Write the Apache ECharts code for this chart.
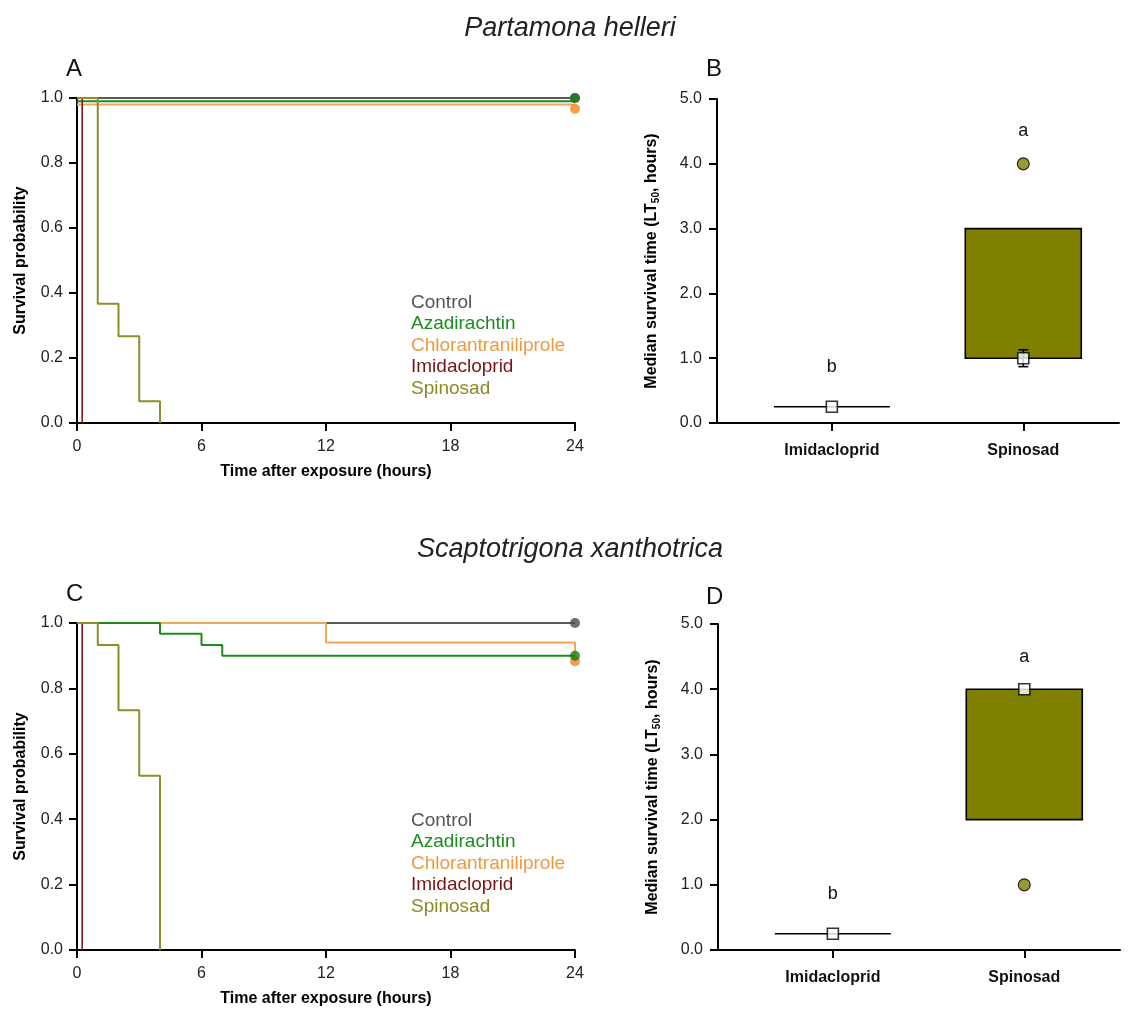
<!DOCTYPE html>
<html><head><meta charset="utf-8">
<script src="https://cdn.jsdelivr.net/npm/echarts@6/dist/echarts.min.js"></script>
<style>html,body{margin:0;padding:0;background:#fff}#c{width:1141px;height:1015px}</style>
</head><body><div id="c"></div>
<script>
// ---------- DATA ----------
const groups = ['Control', 'Azadirachtin', 'Chlorantraniliprole', 'Imidacloprid', 'Spinosad'];
const xTicks = [0, 6, 12, 18, 24];
const endTime = 24;

// Panel A – Partamona helleri, Kaplan-Meier steps [hours, survival]
const kmA_Control = [[0, 1.0], [24, 1.0]];
const kmA_Azadirachtin = [[0, 0.99], [24, 0.99]];
const kmA_Chlorantraniliprole = [[0, 0.98], [24, 0.98]];
const kmA_Imidacloprid = [[0, 1.0], [0.25, 0.0]];
const kmA_Spinosad = [[0, 1.0], [1, 0.367], [2, 0.267], [3, 0.067], [4, 0.0]];
const endA = [1.0, 1.0, 0.967]; // Control, Azadirachtin, Chlorantraniliprole at 24 h

// Panel C – Scaptotrigona xanthotrica
const kmC_Control = [[0, 1.0], [24, 1.0]];
const kmC_Azadirachtin = [[0, 1.0], [4, 0.967], [6, 0.933], [7, 0.90], [24, 0.90]];
const kmC_Chlorantraniliprole = [[0, 1.0], [12, 0.94], [24, 0.88]];
const kmC_Imidacloprid = [[0, 1.0], [0.25, 0.0]];
const kmC_Spinosad = [[0, 1.0], [1, 0.933], [2, 0.733], [3, 0.533], [4, 0.0]];
const endC = [1.0, 0.90, 0.883];

// Panels B / D – median survival time (LT50, hours)
const ltCategories = ['Imidacloprid', 'Spinosad'];
const boxB_q1 = [0.25, 1.0];
const boxB_q3 = [0.25, 3.0];
const meanB = [0.25, 1.0];
const errB = [0, 0.13];
const outlierB = [4.0];      // Spinosad
const letterB = ['b', 'a'];
const letterPosB = [0.87, 4.5];

const boxD_q1 = [0.25, 2.0];
const boxD_q3 = [0.25, 4.0];
const meanD = [0.25, 4.0];
const errD = [0, 0];
const outlierD = [1.0];      // Spinosad
const letterD = ['b', 'a'];
const letterPosD = [0.86, 4.5];

// ---------- STYLE ----------
const FONT = '"Liberation Sans", Arial, sans-serif';
const lineColors = ['#5a5a5a', '#1f8a1f', '#f2a65a', '#8b1a1a', '#8d8d2a'];
const textColors = ['#555555', '#1f8a1f', '#ee9a40', '#7a1414', '#8a8a22'];
const dotColors = ['#4a4a4a', '#1b7a1b', '#f5841f'];
const OLIVE = '#808000';

const chart = echarts.init(document.getElementById('c'));

function kmX(gi) {
  return {
    gridIndex: gi, type: 'value', min: 0, max: 24, interval: 6,
    axisLine: { onZero: false, lineStyle: { color: '#000', width: 2 } },
    axisTick: { inside: false, length: 8, lineStyle: { color: '#000', width: 2 } },
    axisLabel: { margin: 16, fontSize: 16, color: '#222', fontFamily: FONT },
    splitLine: { show: false },
    name: 'Time after exposure (hours)', nameLocation: 'middle', nameGap: 41,
    nameTextStyle: { fontSize: 16, fontWeight: 'bold', color: '#000', fontFamily: FONT }
  };
}
function kmY(gi) {
  return {
    gridIndex: gi, type: 'value', min: 0, max: 1, interval: 0.2,
    axisLine: { show: true, onZero: false, lineStyle: { color: '#000', width: 2 } },
    axisTick: { show: true, inside: false, length: 8, lineStyle: { color: '#000', width: 2 } },
    axisLabel: { margin: 14, fontSize: 16, color: '#222', fontFamily: FONT, formatter: v => v.toFixed(1) },
    splitLine: { show: false },
    name: 'Survival probability', nameLocation: 'middle', nameGap: 48,
    nameTextStyle: { fontSize: 16, fontWeight: 'bold', color: '#000', fontFamily: FONT }
  };
}
function ltX(gi) {
  return {
    gridIndex: gi, type: 'value', min: 0.4, max: 2.5,
    axisLine: { onZero: false, lineStyle: { color: '#000', width: 2 } },
    axisTick: { inside: false, length: 8, customValues: [1, 2], lineStyle: { color: '#000', width: 2 } },
    axisLabel: { margin: 20, customValues: [1, 2], fontSize: 16, fontWeight: 'bold', color: '#111', fontFamily: FONT,
      formatter: v => ltCategories[Math.round(v) - 1] || '' },
    splitLine: { show: false }
  };
}
function ltY(gi) {
  return {
    gridIndex: gi, type: 'value', min: 0, max: 5, interval: 1,
    axisLine: { show: true, onZero: false, lineStyle: { color: '#000', width: 2 } },
    axisTick: { show: true, inside: false, length: 8, lineStyle: { color: '#000', width: 2 } },
    axisLabel: { margin: 15, fontSize: 16, color: '#222', fontFamily: FONT, formatter: v => v.toFixed(1) },
    splitLine: { show: false },
    name: '{b|Median survival time (LT}{s|50}{b|, hours)}', nameLocation: 'middle', nameGap: 56,
    nameTextStyle: { rich: {
      b: { fontSize: 16, fontWeight: 'bold', color: '#000', fontFamily: FONT, lineHeight: 18 },
      s: { fontSize: 10, fontWeight: 'bold', color: '#000', fontFamily: FONT, lineHeight: 10, verticalAlign: 'bottom' }
    } }
  };
}

function kmSeries(gi, arrs, ends) {
  const order = [0, 2, 1, 3, 4];
  const out = [];
  order.forEach(i => {
    out.push({
      name: groups[i], type: 'line', xAxisIndex: gi, yAxisIndex: gi, step: 'end',
      showSymbol: false, data: arrs[i], animation: false, silent: true,
      lineStyle: { color: lineColors[i], width: i === 3 ? 1.6 : 2 },
      itemStyle: { color: lineColors[i] }
    });
  });
  [0, 2, 1].forEach(i => {
    out.push({
      name: groups[i], type: 'scatter', xAxisIndex: gi, yAxisIndex: gi,
      data: [[endTime, ends[i]]], symbolSize: 10, animation: false, silent: true, z: 5,
      itemStyle: { color: dotColors[i] }
    });
  });
  return out;
}

function ltSeries(gi, q1, q3, mean, err, outl, letters, letterPos) {
  const boxData = ltCategories.map((c, i) => [i + 1, q1[i], q3[i]]);
  return [
    { type: 'custom', xAxisIndex: gi, yAxisIndex: gi, data: boxData, animation: false, silent: true, z: 2,
      renderItem: (p, api) => {
        const a = api.coord([api.value(0) - 0.303, api.value(2)]);
        const b = api.coord([api.value(0) + 0.303, api.value(1)]);
        return { type: 'rect', shape: { x: a[0], y: a[1], width: b[0] - a[0], height: b[1] - a[1] },
          style: { fill: OLIVE, stroke: '#000', lineWidth: 1.6 } };
      } },
    { type: 'custom', xAxisIndex: gi, yAxisIndex: gi, animation: false, silent: true, z: 3,
      data: mean.map((m, i) => [i + 1, m - err[i], m + err[i]]),
      renderItem: (p, api) => {
        if (api.value(2) - api.value(1) <= 0) return null;
        const lo = api.coord([api.value(0), api.value(1)]);
        const hi = api.coord([api.value(0), api.value(2)]);
        const s = { stroke: '#000', lineWidth: 1.6 };
        return { type: 'group', children: [
          { type: 'line', shape: { x1: lo[0], y1: lo[1], x2: hi[0], y2: hi[1] }, style: s },
          { type: 'line', shape: { x1: lo[0] - 5, y1: lo[1], x2: lo[0] + 5, y2: lo[1] }, style: s },
          { type: 'line', shape: { x1: hi[0] - 5, y1: hi[1], x2: hi[0] + 5, y2: hi[1] }, style: s }
        ] };
      } },
    { type: 'scatter', xAxisIndex: gi, yAxisIndex: gi, animation: false, silent: true, z: 4,
      data: mean.map((m, i) => [i + 1, m]), symbol: 'rect', symbolSize: 11,
      itemStyle: { color: '#fff', borderColor: '#000', borderWidth: 1.6 } },
    { type: 'scatter', xAxisIndex: gi, yAxisIndex: gi, animation: false, silent: true, z: 4,
      data: outl.map(v => [2, v]), symbol: 'circle', symbolSize: 12,
      itemStyle: { color: OLIVE, borderColor: '#000', borderWidth: 1.2 } },
    { type: 'custom', xAxisIndex: gi, yAxisIndex: gi, animation: false, silent: true, z: 4,
      data: letterPos.map((v, i) => [i + 1, v]),
      renderItem: (p, api) => {
        const c = api.coord([api.value(0), api.value(1)]);
        return { type: 'text', x: c[0], y: c[1],
          style: { text: letters[p.dataIndex], fontSize: 18, fontFamily: FONT, fill: '#111', align: 'center', verticalAlign: 'middle' } };
      } }
  ];
}

function legendAt(top) {
  return {
    left: 406, top: top, orient: 'vertical', icon: 'none', itemWidth: 0, itemHeight: 0, itemGap: 2,
    selectedMode: false, padding: 0,
    data: groups.map((g, i) => ({ name: g, textStyle: { color: textColors[i] } })),
    textStyle: { fontSize: 19, fontFamily: FONT, lineHeight: 19.5, padding: 0 }
  };
}

const option = {
  backgroundColor: '#fff',
  animation: false,
  grid: [
    { left: 77, top: 98, width: 498, height: 325 },
    { left: 717, top: 99, width: 402, height: 324 },
    { left: 77, top: 623, width: 498, height: 327 },
    { left: 718, top: 624, width: 402, height: 326 }
  ],
  xAxis: [kmX(0), ltX(1), kmX(2), ltX(3)],
  yAxis: [kmY(0), ltY(1), kmY(2), ltY(3)],
  legend: [legendAt(293), legendAt(811)],
  graphic: [
    { type: 'text', x: 570, y: 28, style: { text: 'Partamona helleri', fontSize: 27, fontStyle: 'italic', fontFamily: FONT, fill: '#222', align: 'center', verticalAlign: 'middle' } },
    { type: 'text', x: 570, y: 549, style: { text: 'Scaptotrigona xanthotrica', fontSize: 27, fontStyle: 'italic', fontFamily: FONT, fill: '#222', align: 'center', verticalAlign: 'middle' } },
    { type: 'text', x: 66, y: 69, style: { text: 'A', fontSize: 24, fontFamily: FONT, fill: '#111', verticalAlign: 'middle' } },
    { type: 'text', x: 706, y: 69, style: { text: 'B', fontSize: 24, fontFamily: FONT, fill: '#111', verticalAlign: 'middle' } },
    { type: 'text', x: 66, y: 594, style: { text: 'C', fontSize: 24, fontFamily: FONT, fill: '#111', verticalAlign: 'middle' } },
    { type: 'text', x: 706, y: 597, style: { text: 'D', fontSize: 24, fontFamily: FONT, fill: '#111', verticalAlign: 'middle' } }
  ],
  series: [
    ...kmSeries(0, [kmA_Control, kmA_Azadirachtin, kmA_Chlorantraniliprole, kmA_Imidacloprid, kmA_Spinosad], endA),
    ...ltSeries(1, boxB_q1, boxB_q3, meanB, errB, outlierB, letterB, letterPosB),
    ...kmSeries(2, [kmC_Control, kmC_Azadirachtin, kmC_Chlorantraniliprole, kmC_Imidacloprid, kmC_Spinosad], endC),
    ...ltSeries(3, boxD_q1, boxD_q3, meanD, errD, outlierD, letterD, letterPosD)
  ]
};
chart.setOption(option);
</script>
</body></html>
